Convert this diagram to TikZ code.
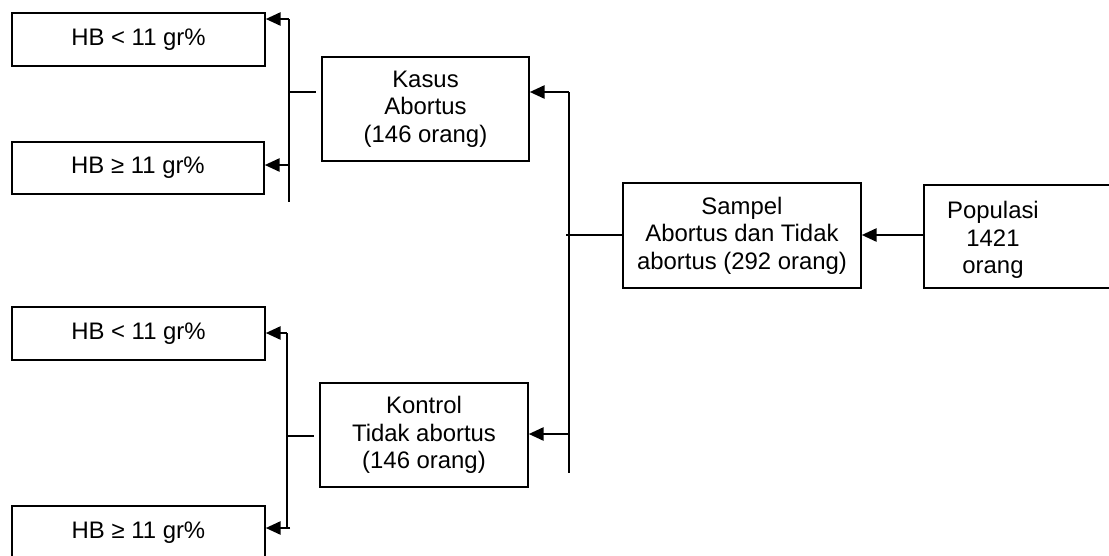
\documentclass[tikz,border=0pt]{standalone}
\usepackage{fontspec}
\setmainfont{Liberation Sans}
\usetikzlibrary{arrows.meta,positioning}
\tikzset{
  txt/.style={align=center, font=\fontsize{13.6pt}{15.6pt}\selectfont},
  box/.style={txt, draw, line width=0.9pt, inner sep=0pt},
  arr/.style={line width=1.3pt, -{Triangle[length=8.5pt,width=7.5pt]}},
  bus/.style={line width=1.3pt},
  stub/.style={line width=0.7pt},
}
\begin{document}
\begin{tikzpicture}[x=0.02cm, y=-0.02cm]
\useasboundingbox (0,0) rectangle (1109,555);
% boxes
\node[box, minimum width=5.06cm, minimum height=1.06cm] (hbA1) at (138.5,39.5) {HB < 11 gr\%};
\node[box, minimum width=5.04cm, minimum height=1.04cm] (hbB1) at (138,168) {HB ≥ 11 gr\%};
\node[box, minimum width=5.06cm, minimum height=1.06cm] (hbA2) at (138.5,333.5) {HB < 11 gr\%};
\node[box, minimum width=5.06cm, minimum height=1.06cm] (hbB2) at (138.5,532.5) {HB ≥ 11 gr\%};
\node[box, minimum width=4.14cm, minimum height=2.08cm] (kasus) at (425.5,109) {Kasus\\Abortus\\(146 orang)};
\node[box, minimum width=4.16cm, minimum height=2.08cm] (kontrol) at (424,435) {Kontrol\\Tidak abortus\\(146 orang)};
\node[box, minimum width=4.76cm, minimum height=2.1cm] (sampel) at (742,235.5) {Sampel\\Abortus dan Tidak\\abortus (292 orang)};
\node[box, minimum width=4.1cm, minimum height=2.06cm, anchor=west] (pop) at (923,236.5) {};
\node[txt] (popText) at ([xshift=1.4cm, yshift=-2pt]pop.west) {Populasi\\1421\\orang};
% main bus
\coordinate (m1) at (569,92);
\coordinate (m2) at (569,473);
\coordinate (m3) at (569,434);
\coordinate (m4) at (566,235);
\coordinate (p1) at (923,235);
\draw[bus] (m1) -- (m2);
\draw[arr] (m1) -- (m1 -| kasus.east);
\draw[arr] (m3) -- (m3 -| kontrol.east);
\draw[stub] (m4) -- (m4 -| sampel.west);
\draw[arr] (p1) -- (p1 -| sampel.east);
% kasus side
\coordinate (a1) at (289,19);
\coordinate (a2) at (289,202);
\coordinate (a3) at (289,165);
\coordinate (a4) at (289,92);
\draw[bus] (a1) -- (a2);
\draw[arr] (a1) -- (a1 -| hbA1.east);
\draw[arr] (a3) -- (a3 -| hbB1.east);
\draw[stub, shorten >=2.8pt] (a4) -- (a4 -| kasus.west);
% kontrol side
\coordinate (b1) at (287,333);
\coordinate (b2) at (287,528);
\coordinate (b3) at (290,528);
\coordinate (b4) at (287,436);
\draw[bus] (b1) -- (b2);
\draw[arr] (b1) -- (b1 -| hbA2.east);
\draw[arr] (b3) -- (b3 -| hbB2.east);
\draw[stub, shorten >=2.8pt] (b4) -- (b4 -| kontrol.west);
\end{tikzpicture}
\end{document}
